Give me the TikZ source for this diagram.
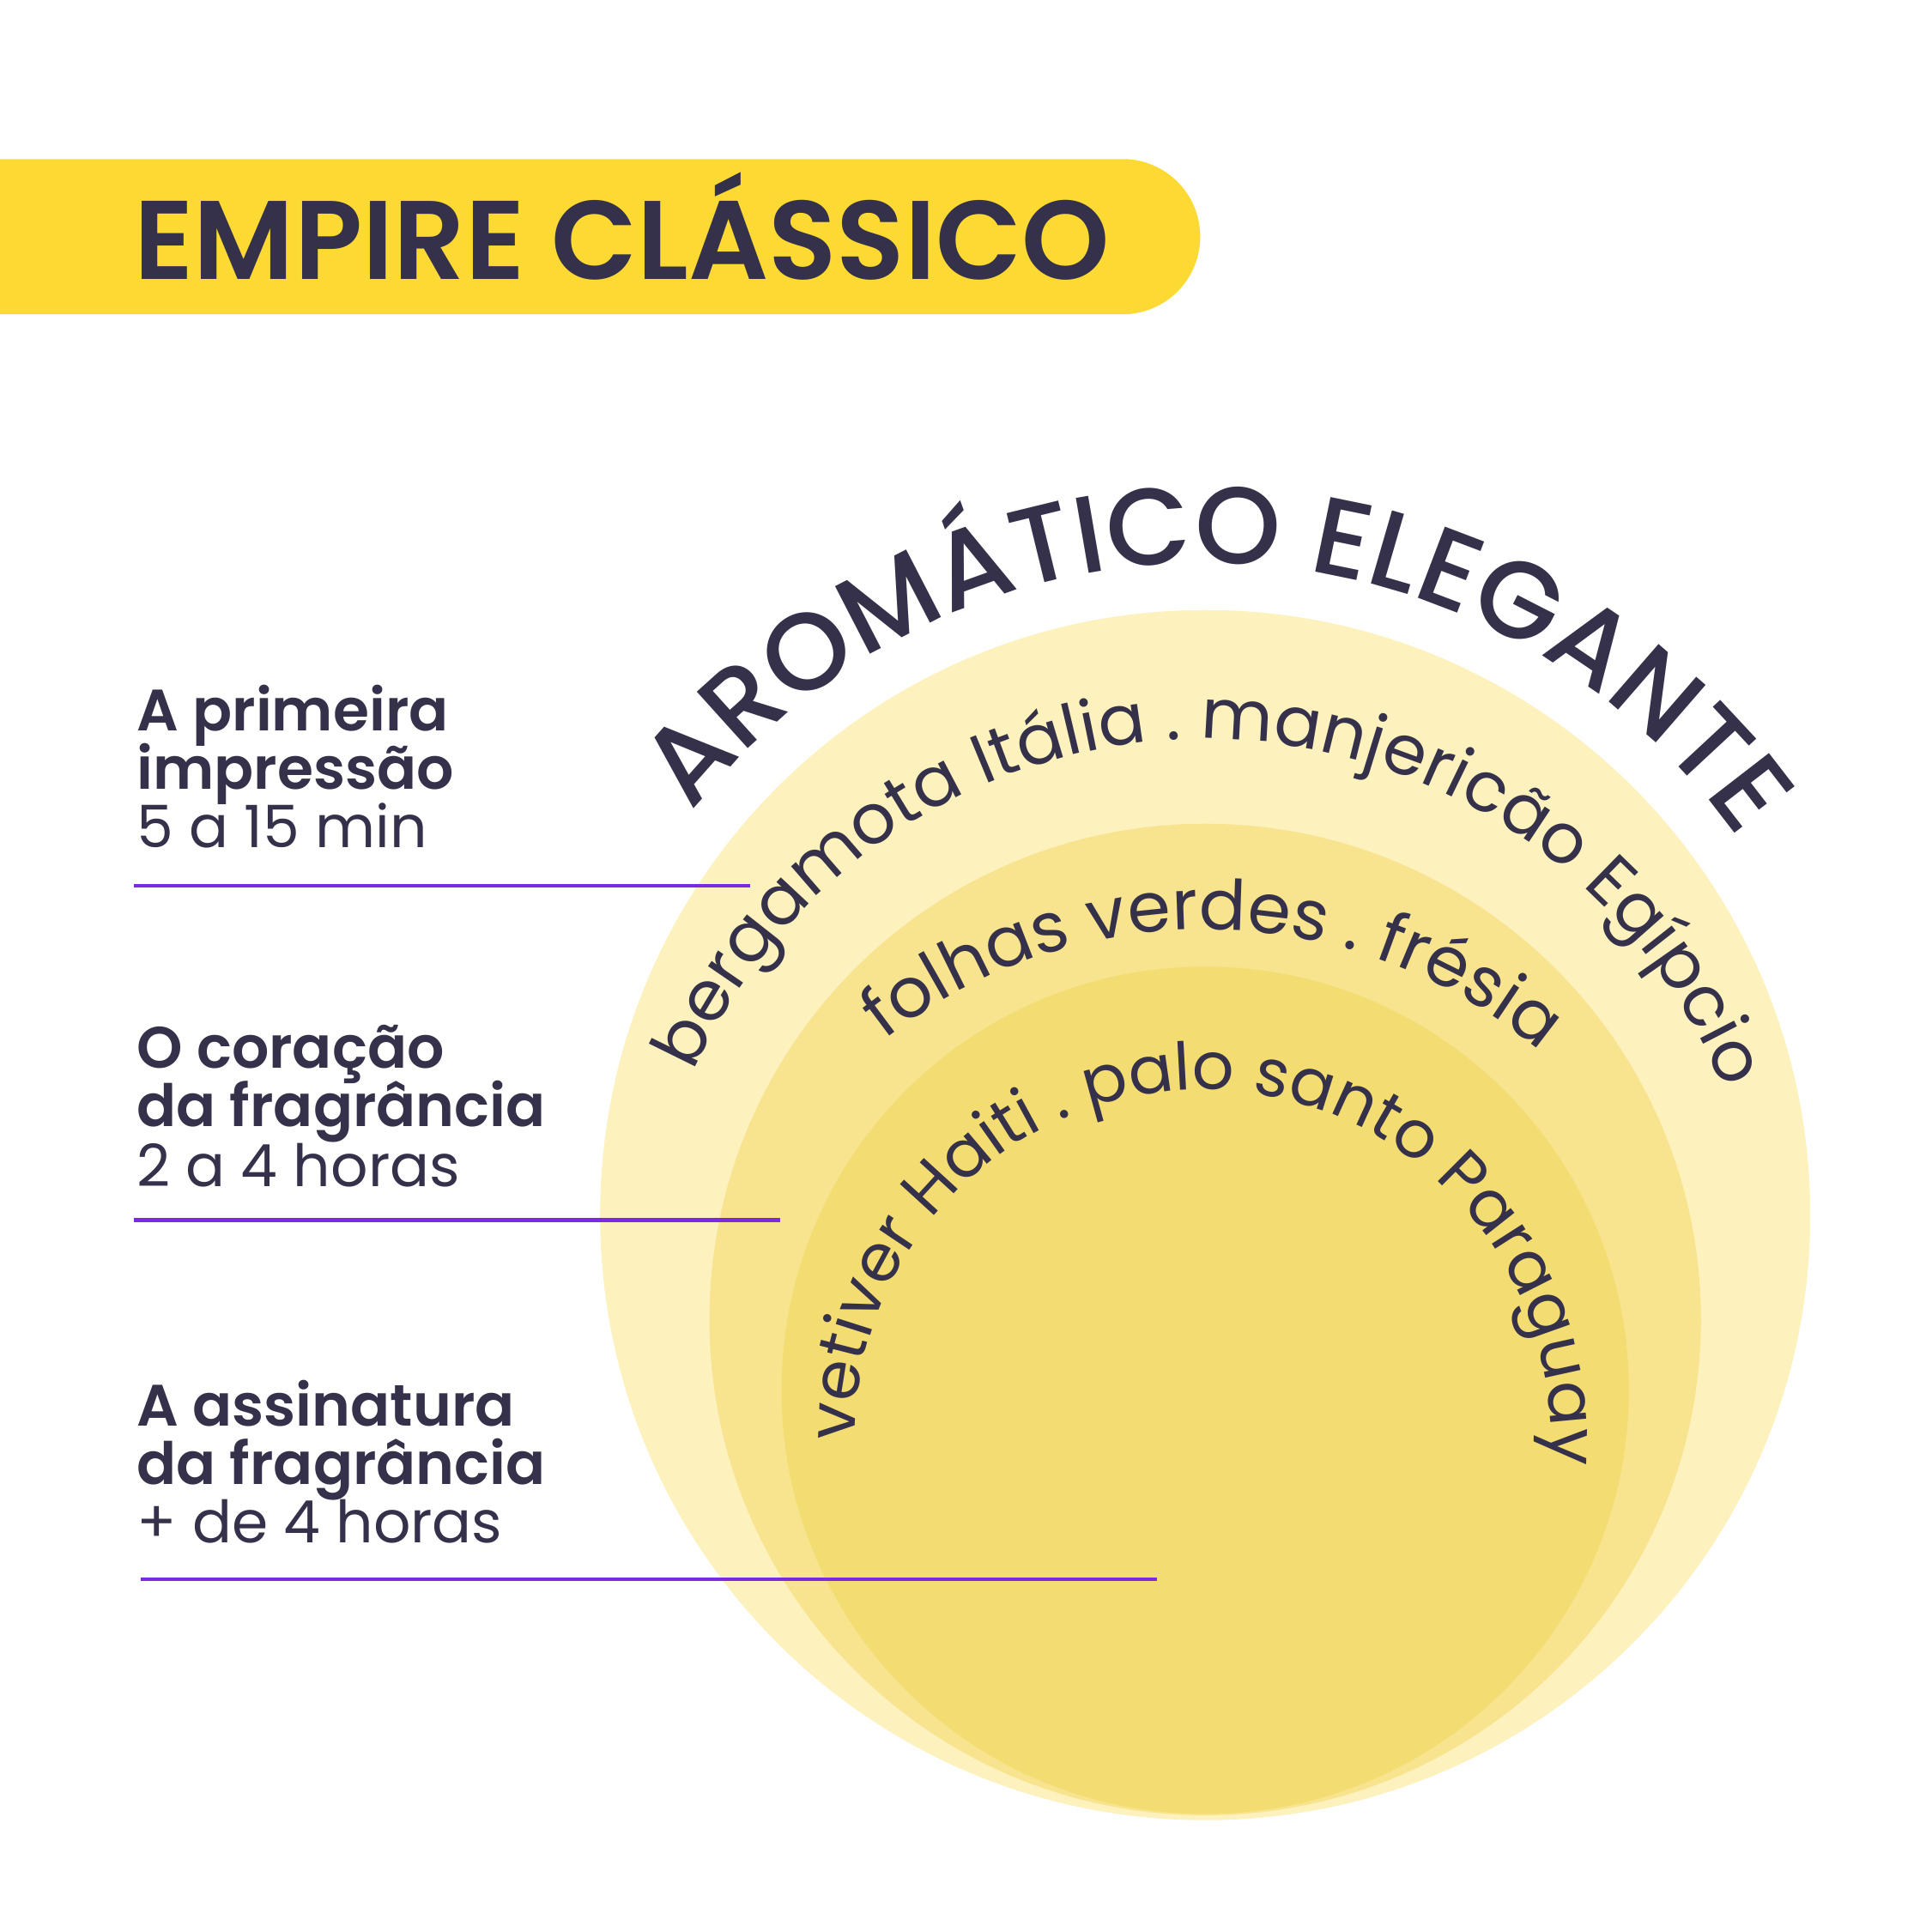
\documentclass[tikz,border=0pt]{standalone}
\usepackage{fontspec}
\setmainfont{Poppins}
\newfontfamily\popsb{Poppins}[UprightFont=* SemiBold]
\newfontfamily\popmed{Poppins}[UprightFont=* Medium]
\usetikzlibrary{decorations.text}
\definecolor{ink}{HTML}{35314B}
\definecolor{purp}{HTML}{7A2BE2}
\definecolor{banner}{HTML}{FDDA33}
\definecolor{c1}{HTML}{FDF1BD}
\definecolor{c2}{HTML}{F8E48E}
\definecolor{c3}{HTML}{F3DD73}
\begin{document}
\begin{tikzpicture}[x=1pt,y=1pt,
  lab/.style={anchor=base west,inner sep=0pt,text=ink,font=\popsb\fontsize{47}{47}\selectfont},
  labr/.style={anchor=base west,inner sep=0pt,text=ink,font=\fontsize{47}{47}\selectfont},
  rule/.style={draw=purp,line width=3pt},
  arctext/.style 2 args={decorate,decoration={text along path,text align=center,
     text={|\color{ink}\fontsize{#1}{#1}\selectfont|#2}}}]
\useasboundingbox[fill=white] (0,0) rectangle (1555,1555);
\fill[banner] (0,1302) -- (903.5,1302) arc(-90:90:62.5) -- (0,1427) -- cycle;
\node[anchor=base west,inner sep=0pt,text=ink,font=\popsb\fontsize{90}{90}\selectfont] (title) at (108,1330) {EMPIRE CLÁSSICO};
\fill[c1] (970,577) circle (487);
\fill[c2] (970,493) circle (399);
\fill[c3] (970,436) circle (341);
\path[decorate,decoration={text along path,text align=center,
   text={|\color{ink}\popmed\fontsize{88}{88}\selectfont|AROMÁTICO ELEGANTE}}]
   (970,577) ++(165:525) arc(165:12:525);
\path[arctext={56}{bergamota Itália . manjericão Egípcio}] (970,510) ++(170:450) arc(170:8:450);
\path[arctext={56}{folhas verdes . frésia}] (970,387) ++(145:420) arc(145:33:420);
\path[arctext={53}{vetiver Haiti . palo santo Paraguay}] (968,398) ++(190:280) arc(190:-14:280);
\node[lab] (a1) at (110,967) {A primeira};
\node[lab] (a2) at (110,920) {impressão};
\node[labr] (a3) at (110,873) {5 a 15 min};
\node[lab] (b1) at (110,695) {O coração};
\node[lab] (b2) at (110,648) {da fragrância};
\node[labr] (b3) at (110,600) {2 a 4 horas};
\node[lab] (d1) at (110,407) {A assinatura};
\node[lab] (d2) at (110,360) {da fragrância};
\node[labr] (d3) at (110,313) {+ de 4 horas};
\coordinate (l1a) at (108,842); \coordinate (l1b) at (604,842);
\coordinate (l2a) at (108,573); \coordinate (l2b) at (628,573);
\coordinate (l3a) at (113,284); \coordinate (l3b) at (931,284);
\draw[rule] (l1a) -- (l1b);
\draw[rule] (l2a) -- (l2b);
\draw[rule] (l3a) -- (l3b);
\end{tikzpicture}
\end{document}
